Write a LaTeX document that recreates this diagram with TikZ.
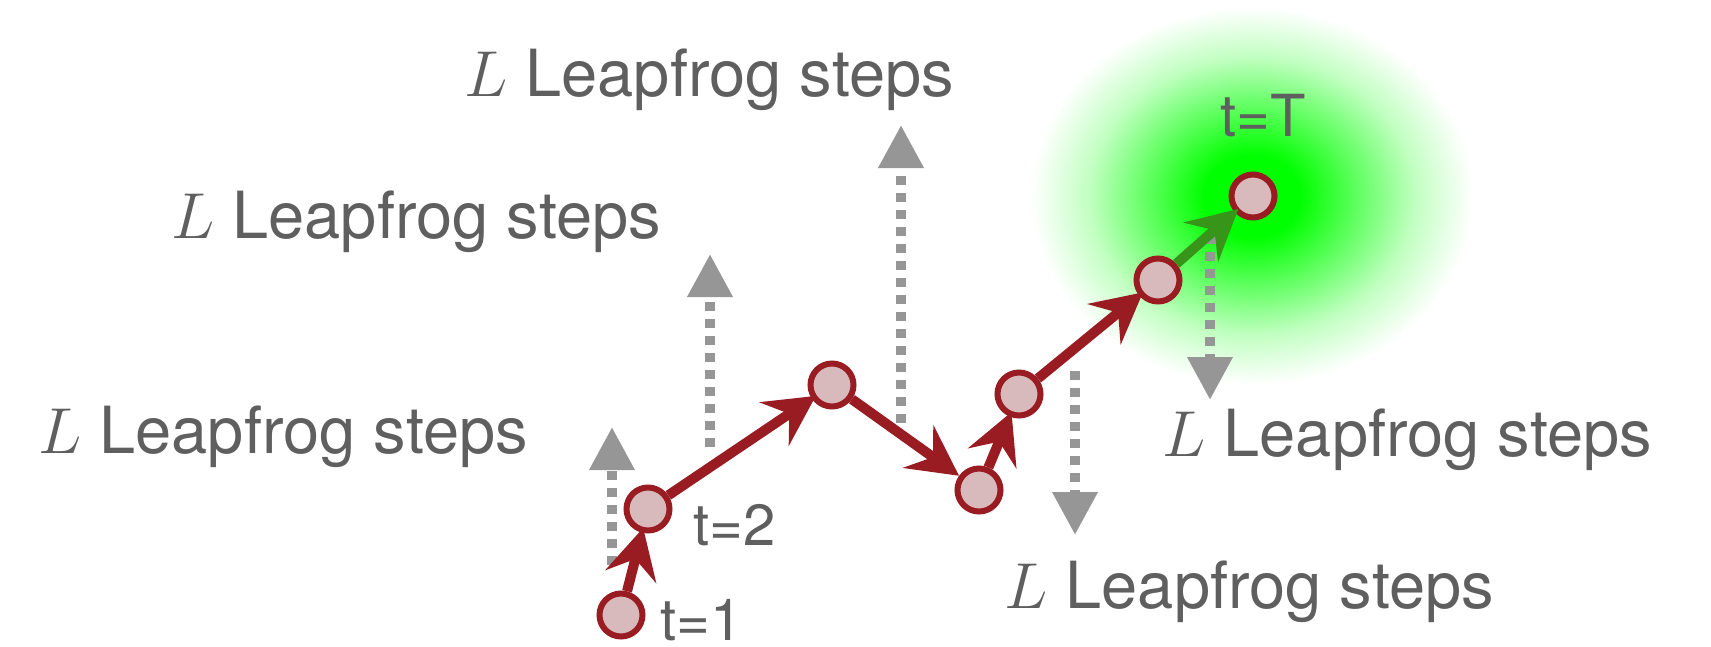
\RequirePackage{fix-cm}
\documentclass[tikz,border=0pt]{standalone}
\usepackage{fontspec}
\setmainfont{TeX Gyre Heros}
\usetikzlibrary{arrows.meta}
\definecolor{arrred}{RGB}{152,28,34}
\definecolor{nodefill}{RGB}{216,186,189}
\definecolor{txtgray}{RGB}{95,95,95}
\definecolor{dotgray}{RGB}{150,150,150}
\definecolor{arrgreen}{RGB}{55,150,25}
\pgfdeclareradialshading{glow}{\pgfpoint{0bp}{0bp}}{color(0bp)=(green); color(5bp)=(green); color(11bp)=(green!62!white); color(17bp)=(green!24!white); color(23bp)=(white); color(50bp)=(white)}
\begin{document}
\begin{tikzpicture}[x=1pt,y=-1pt,
 state/.style={circle, draw=arrred, fill=nodefill, line width=6pt, minimum size=43pt, inner sep=0pt},
 move/.style={draw=arrred, line width=10pt, -{Stealth[length=50pt,width=52pt,inset=18pt]}, shorten >=-5pt},
 leap/.style={draw=dotgray, line width=10pt, dash pattern=on 9pt off 8pt, -{Triangle[length=43pt,width=43pt]}},
 lbl/.style={text=txtgray, font=\fontsize{65}{78}\selectfont, anchor=base west, inner sep=0pt},
 tlbl/.style={text=txtgray, font=\fontsize{58}{70}\selectfont, anchor=base west, inner sep=0pt}]
\useasboundingbox (0,0) rectangle (1711,646);
% glow
\shade[shading=glow] (1252,196) ellipse [x radius=240, y radius=205];
% leapfrog arrows
\coordinate (a1s) at (612,565); \coordinate (a1e) at (612,427);
\coordinate (a2s) at (710,447); \coordinate (a2e) at (710,254);
\coordinate (a3s) at (901,423); \coordinate (a3e) at (901,125);
\coordinate (a4s) at (1075,371); \coordinate (a4e) at (1075,535);
\coordinate (a5s) at (1210,235); \coordinate (a5e) at (1210,400);
\draw[leap] (a1s) -- (a1e);
\draw[leap] (a2s) -- (a2e);
\draw[leap] (a3s) -- (a3e);
\draw[leap] (a4s) -- (a4e);
\draw[leap] (a5s) -- (a5e);
% states
\node[state] (s1) at (621,615) {};
\node[state] (s2) at (648,509) {};
\node[state] (s3) at (832,385) {};
\node[state] (s4) at (979,490) {};
\node[state] (s5) at (1019,394) {};
\node[state] (s6) at (1158,280) {};
\node[state] (sT) at (1253,196) {};
% moves
\draw[move] (s1) -- (s2);
\draw[move] (s2) -- (s3);
\draw[move, shorten >=0pt] (s3) -- (s4);
\draw[move] (s4) -- (s5);
\draw[move] (s5) -- (s6);
\draw[move, draw=arrgreen] (s6) -- (sT);
% labels
\node[lbl] (l1) at (38,453) {$L$ Leapfrog steps};
\node[lbl] (l2) at (171,238) {$L$ Leapfrog steps};
\node[lbl] (l3) at (464,96) {$L$ Leapfrog steps};
\node[lbl] (l4) at (1162,456) {$L$ Leapfrog steps};
\node[lbl] (l5) at (1004,608) {$L$ Leapfrog steps};
\node[tlbl] (t1) at (660,640) {t=1};
\node[tlbl] (t2) at (693,545) {t=2};
\node[tlbl] (tT) at (1220,136) {t=T};
\end{tikzpicture}
\end{document}
